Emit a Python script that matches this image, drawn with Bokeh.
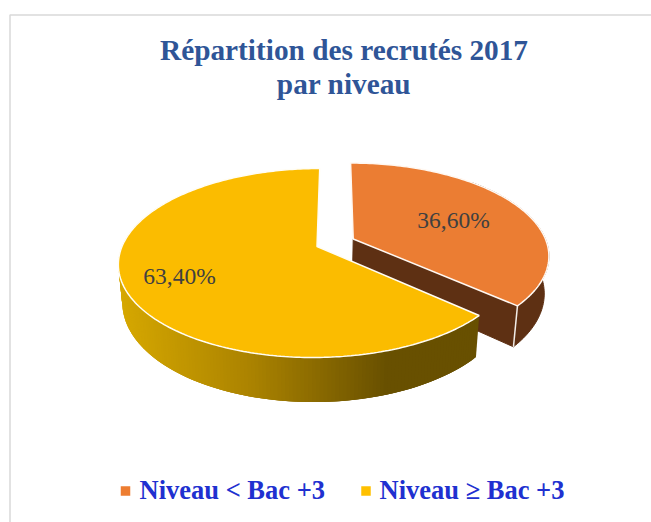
import math
from bokeh.plotting import figure
from bokeh.models import Range1d
from bokeh.core.properties import value
from bokeh.embed import file_html
from bokeh.resources import INLINE

# ---- data ----
categories = ["Niveau < Bac +3", "Niveau ≥ Bac +3"]
shares = [36.6, 63.4]
data_labels = ["36,60%", "63,40%"]
title_lines = ["Répartition des recrutés 2017", "par niveau"]

# ---- style / layout ----
SERIF = "Liberation Serif"
TOP_COLORS = ["#EB7D33", "#FBBC00"]
LEGEND_COLORS = ["#ED7D31", "#FFC000"]
CX, CY, RX, RY = 316.5, 246.0, 195.0, 91.6
PERSP, SKEW, DEPTH, BOTTOM_SCALE = 0.1746, -0.035, 36.8, 0.98
EXPLODE = 0.205
SIDE_ORANGE = "#5E3013"


def project(u, v):
    s = 1.0 / (1.0 - PERSP * v)
    y = CY + RY * v * s
    x = CX + RX * u * s + SKEW * (y - CY)
    return x, y, s


def top(a, offset=(0.0, 0.0)):
    r = math.radians(a)
    return project(math.sin(r) + offset[0], -math.cos(r) + offset[1])


def drop(pt):
    x, y, s = pt
    return CX + BOTTOM_SCALE * (x - CX), y + DEPTH * s


def lerp_color(x):
    stops = [(120, (214, 168, 0)), (250, (172, 132, 0)), (390, (104, 80, 0)), (480, (104, 80, 0))]
    for (x0, c0), (x1, c1) in zip(stops, stops[1:]):
        if x <= x1:
            t = max(0.0, (x - x0) / (x1 - x0))
            return "#%02x%02x%02x" % tuple(int(a + t * (b - a)) for a, b in zip(c0, c1))
    return "#685000"


p = figure(width=651, height=522, x_range=Range1d(0, 651), y_range=Range1d(522, 0),
           output_backend="svg", toolbar_location=None, min_border=0)
p.axis.visible = False
p.grid.visible = False
p.outline_line_color = None
p.background_fill_color = "white"

# chart frame
p.line([9.5, 9.5, 651], [522, 14.5, 14.5], line_color="#D9D9D9", line_width=1.5)

# slice angles from the values
total = sum(shares)
a0 = shares[0] / total * 360.0
steps = 120

# orange slice, pulled out along its bisector
mid = math.radians(a0 / 2)
off = (EXPLODE * math.sin(mid), -EXPLODE * math.cos(mid))
arc_o = [top(a0 * i / steps, off) for i in range(steps + 1)]
apex_o = project(*off)
rim_o = [q for i, q in enumerate(arc_o) if a0 * i / steps >= 45.0]
low_o = [drop(q) for q in rim_o]
p.patch([q[0] for q in rim_o] + [q[0] for q in reversed(low_o)],
        [q[1] for q in rim_o] + [q[1] for q in reversed(low_o)],
        fill_color=SIDE_ORANGE, line_color=SIDE_ORANGE)
end_o = arc_o[-1]
ad, ed = drop(apex_o), drop(end_o)
p.patch([apex_o[0], end_o[0], ed[0], ad[0]], [apex_o[1], end_o[1], ed[1], ad[1]],
        fill_color=SIDE_ORANGE, line_color=SIDE_ORANGE)
p.line([end_o[0], ed[0]], [end_o[1], ed[1]], line_color="#F2EDE8", line_width=1.5)
p.patch([apex_o[0]] + [q[0] for q in arc_o], [apex_o[1]] + [q[1] for q in arc_o],
        fill_color=TOP_COLORS[0], line_color="#FFF8F2", line_width=1.5)

# yellow slice: overlapping side strips with a left-to-right shading, then the top face
arc_y = [top(a0 + (360.0 - a0) * i / (steps * 2)) for i in range(steps * 2 + 1)]
rim_y = [q for i, q in enumerate(arc_y) if a0 + (360.0 - a0) * i / (steps * 2) <= 305.0]
for i in range(len(rim_y) - 1):
    q0, q1 = rim_y[i], rim_y[min(i + 3, len(rim_y) - 1)]
    b0, b1 = drop(q0), drop(q1)
    col = lerp_color(q0[0])
    p.patch([q0[0], q1[0], b1[0], b0[0]], [q0[1], q1[1], b1[1], b0[1]],
            fill_color=col, line_color=None)
apex_y = project(0.0, 0.0)
p.patch([apex_y[0]] + [q[0] for q in arc_y], [apex_y[1]] + [q[1] for q in arc_y],
        fill_color=TOP_COLORS[1], line_color="#FFFDF5", line_width=1.5)

# data labels
p.text([453, 179], [219.5, 275.5], text=data_labels, text_font=value(SERIF),
       text_font_size="23.5px", text_color="#404040", text_align="center", text_baseline="middle")

# title
p.text([343.5, 343.5], [49.5, 83.5], text=title_lines, text_font=value(SERIF), text_font_style="bold",
       text_font_size="29.3px", text_color="#2F5597", text_align="center", text_baseline="middle")

# legend
p.rect([125, 365.5], [490.5, 490.5], width=9.5, height=9.5, fill_color=LEGEND_COLORS, line_color=None)
p.text([139, 379], [489, 489], text=categories, text_font=value(SERIF), text_font_style="bold",
       text_font_size="26.5px", text_color="#2030D0", text_align="left", text_baseline="middle")

open("out.html", "w").write(file_html(p, INLINE))
